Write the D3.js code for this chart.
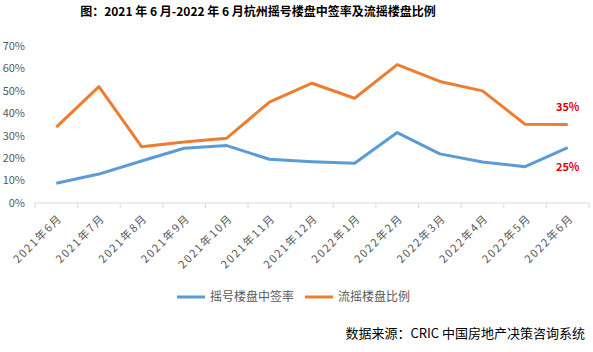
<!DOCTYPE html>
<html>
<head>
<meta charset="utf-8">
<script src="https://cdn.jsdelivr.net/npm/d3@7"></script>
<style>
	body { margin: 0; background: #fff; }
	svg { display: block; font-family: "Noto Sans CJK SC", "DejaVu Sans", sans-serif; }
</style>
</head>
<body>
<svg id="chart"></svg>
<script>
// data
const months = ["2021年6月", "2021年7月", "2021年8月", "2021年9月", "2021年10月", "2021年11月", "2021年12月",
	"2022年1月", "2022年2月", "2022年3月", "2022年4月", "2022年5月", "2022年6月"];
const winRate = [8.8, 12.9, 18.7, 24.4, 25.6, 19.5, 18.4, 17.7, 31.4, 21.9, 18.3, 16.2, 24.7];
const flowRate = [33.8, 51.9, 25.1, 27.2, 28.9, 45.0, 53.4, 46.7, 61.7, 54.2, 50.0, 35.1, 35.0];
const yTicks = [0, 10, 20, 30, 40, 50, 60, 70];
const seriesNames = ["摇号楼盘中签率", "流摇楼盘比例"];

const width = 593;
const height = 352;

const svg = d3.select("#chart")
	.attr("width", width)
	.attr("height", height);

// scales
const x = d3.scaleBand()
	.domain(months)
	.range([35, 589]);

const y = d3.scaleLinear()
	.domain([0, 70])
	.range([203, 46]);

// title
svg.append("text")
	.attr("x", 258)
	.attr("y", 16)
	.attr("text-anchor", "middle")
	.style("font-size", "12px")
	.style("font-weight", "bold")
	.style("fill", "#000")
	.text("图：2021 年 6 月-2022 年 6 月杭州摇号楼盘中签率及流摇楼盘比例");

// y axis labels
svg.append("g")
	.selectAll("text")
	.data(yTicks)
	.join("text")
	.attr("x", 25)
	.attr("y", (d) => y(d))
	.attr("dy", "0.35em")
	.attr("text-anchor", "end")
	.style("font-size", "11px")
	.style("fill", "#595959")
	.text((d) => d + "%");

// x axis
const xAxis = svg.append("g")
	.attr("transform", `translate(0,${y(0)})`);

xAxis.append("line")
	.attr("x1", x.range()[0])
	.attr("x2", x.range()[1])
	.attr("stroke", "#d9d9d9")
	.attr("stroke-width", 1);

xAxis.selectAll("line.tick")
	.data(months.concat([null]))
	.join("line")
	.attr("class", "tick")
	.attr("x1", (d, i) => x.range()[0] + i * x.step())
	.attr("x2", (d, i) => x.range()[0] + i * x.step())
	.attr("y1", 0)
	.attr("y2", 5)
	.attr("stroke", "#d9d9d9");

xAxis.selectAll("text")
	.data(months)
	.join("text")
	.attr("transform", (d) => `translate(${x(d) + x.bandwidth() / 2 + 4},${13}) rotate(-45)`)
	.attr("text-anchor", "end")
	.attr("dy", "0.35em")
	.style("font-size", "11px")
	.style("letter-spacing", "1.6px")
	.style("fill", "#595959")
	.text((d) => d);

// lines
const line = d3.line()
	.x((d, i) => x(months[i]) + x.bandwidth() / 2)
	.y((d) => y(d));

const colors = ["#5b9bd5", "#ed7d31"];

[winRate, flowRate].forEach((values, k) => {
	svg.append("path")
		.datum(values)
		.attr("fill", "none")
		.attr("stroke", colors[k])
		.attr("stroke-width", 3)
		.attr("stroke-linejoin", "round")
		.attr("d", line);
});

// end labels
const lastX = x(months[months.length - 1]) + x.bandwidth() / 2;
svg.append("text")
	.attr("x", lastX)
	.attr("y", y(flowRate[flowRate.length - 1]) - 17)
	.attr("text-anchor", "middle")
	.attr("dy", "0.35em")
	.style("font-size", "11px")
	.style("font-weight", "bold")
	.style("fill", "#e00000")
	.text("35%");

svg.append("text")
	.attr("x", lastX)
	.attr("y", y(winRate[winRate.length - 1]) + 20)
	.attr("text-anchor", "middle")
	.attr("dy", "0.35em")
	.style("font-size", "11px")
	.style("font-weight", "bold")
	.style("fill", "#e00000")
	.text("25%");

// legend
const legend = svg.append("g")
	.attr("transform", "translate(177,297)");

const legendX = [0, 128];
seriesNames.forEach((name, k) => {
	const g = legend.append("g").attr("transform", `translate(${legendX[k]},0)`);
	g.append("line")
		.attr("x1", 0)
		.attr("x2", 28)
		.attr("stroke", colors[k])
		.attr("stroke-width", 3);
	g.append("text")
		.attr("x", 33)
		.attr("dy", "0.35em")
		.style("font-size", "12px")
		.style("fill", "#595959")
		.text(name);
});

// source
svg.append("text")
	.attr("x", 585)
	.attr("y", 333)
	.attr("dy", "0.35em")
	.attr("text-anchor", "end")
	.style("font-size", "13px")
	.style("fill", "#000")
	.text("数据来源：CRIC 中国房地产决策咨询系统");
</script>
</body>
</html>
